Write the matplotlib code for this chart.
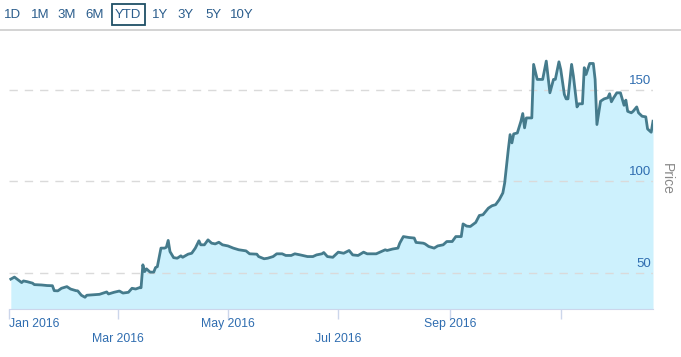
import numpy as np
import matplotlib
matplotlib.use("Agg")
import matplotlib.pyplot as plt
import matplotlib.dates as mdates
import matplotlib.transforms as mtransforms

plt.rcParams['font.family'] = ['Liberation Sans', 'DejaVu Sans']

# days after 2016-01-01 and closing price
days = [1, 3, 5, 7, 8, 10, 13, 14, 18, 21, 24, 25, 27, 29, 32, 34, 37, 38, 40, 42,
        43, 46, 50, 54, 55, 58, 61, 63, 66, 68, 70, 72, 73, 74, 75, 76, 78, 80, 81, 82,
        84, 86, 87, 88, 89, 91, 93, 95, 96, 99, 101, 103, 105, 106, 108, 110, 112, 114, 116, 118,
        121, 124, 127, 131, 133, 137, 138, 141, 143, 146, 148, 151, 153, 156, 158, 161, 165, 168, 170, 173,
        174, 176, 179, 182, 185, 188, 190, 193, 196, 198, 203, 205, 208, 209, 212, 215, 216, 218, 221, 224,
        225, 229, 230, 232, 235, 237, 240, 242, 245, 247, 250, 251, 253, 255, 258, 260, 262, 265, 267, 269,
        271, 273, 274, 275, 276, 277, 278, 279, 281, 283, 284, 285, 286, 289, 290, 292, 295, 297, 299, 301,
        302, 304, 305, 307, 308, 309, 311, 312, 314, 315, 317, 318, 319, 321, 323, 324, 325, 327, 329, 331,
        332, 333, 334, 336, 338, 340, 341, 342, 344, 345, 347, 348, 350, 352, 353, 355, 356]
price = [46.6, 47.7, 46.2, 44.7, 45.6, 45.2, 44.4, 43.6, 43.4, 43.1, 43.0, 40.3, 40.2, 41.6, 42.5, 41.2, 40.3, 40.2, 37.8, 36.7,
         37.8, 38.0, 38.3, 39.6, 38.5, 39.4, 40.1, 39.0, 39.4, 41.6, 41.2, 41.9, 41.9, 54.4, 50.7, 52.2, 50.4, 50.4, 52.9, 53.4,
         63.5, 63.5, 64.0, 67.7, 61.6, 58.3, 58.0, 59.3, 58.5, 60.2, 60.7, 63.5, 67.5, 65.3, 65.3, 68.0, 66.2, 65.8, 66.7, 65.3,
         64.7, 63.5, 62.6, 62.0, 60.4, 60.2, 58.9, 57.7, 58.0, 58.9, 60.4, 60.4, 59.5, 59.5, 60.4, 59.8, 58.9, 58.9, 59.8, 60.4,
         61.1, 58.9, 58.5, 61.3, 60.7, 62.2, 59.8, 59.5, 61.3, 60.4, 60.4, 61.3, 62.6, 62.2, 63.0, 63.5, 66.2, 69.8, 69.3, 69.0,
         66.6, 66.2, 65.8, 64.4, 63.5, 64.7, 65.3, 67.1, 67.1, 69.8, 69.8, 76.7, 75.5, 75.3, 77.5, 81.3, 81.7, 85.3, 86.6, 87.2,
         89.9, 93.6, 99.0, 108.1, 117.2, 125.4, 120.9, 125.8, 126.3, 132.7, 136.9, 129.1, 134.5, 134.5, 163.7, 155.5, 155.5, 165.5, 148.2, 155.5,
         155.5, 165.1, 160.9, 147.3, 144.9, 144.9, 163.7, 157.3, 140.5, 142.2, 142.2, 161.9, 158.2, 164.2, 164.2, 155.5, 130.9, 143.6, 144.9, 145.5,
         147.7, 143.3, 145.1, 148.2, 148.2, 141.4, 144.2, 138.1, 137.3, 138.1, 140.5, 137.3, 135.4, 135.1, 128.5, 126.7, 132.7]

y_ticks = [50, 100, 150]
x_labels = ['Jan 2016', 'Mar 2016', 'May 2016', 'Jul 2016', 'Sep 2016', '']
x_ticks = ['2016-01-01', '2016-03-01', '2016-05-01', '2016-07-01', '2016-09-01', '2016-11-01']
buttons = ['1D', '1M', '3M', '6M', 'YTD', '1Y', '3Y', '5Y', '10Y']

dates = np.datetime64('2016-01-01') + np.array(days).astype('timedelta64[D]')
tick_dates = np.array(x_ticks, dtype='datetime64[D]')

W, H = 681, 357
fig = plt.figure(figsize=(W / 100, H / 100), dpi=100)
ax = fig.add_axes([9 / W, (H - 309) / H, (653 - 9) / W, (309 - 40) / H])

line_col = '#457b8c'
fill_col = '#cdf1fd'
lab_col = '#2f6db0'

ax.fill_between(dates, price, 0, color=fill_col, lw=0, zorder=1)
ax.plot(dates, price, color=line_col, lw=2, zorder=3)

ax.set_xlim(np.datetime64('2016-01-01'), dates[-1])
ax.set_ylim(30.3, 177)

for v in y_ticks:
    ax.axhline(v, color='#dadada', lw=1, ls=(0, (6, 5)), zorder=2)
    ax.text(0.997, v + 1.5, str(v), transform=ax.get_yaxis_transform(),
            ha='right', va='bottom', fontsize=9.5, color=lab_col, zorder=4)

for s in ['top', 'right', 'left']:
    ax.spines[s].set_visible(False)
ax.spines['bottom'].set_color('#ccd6eb')
ax.set_yticks([])
ax.set_xticks(tick_dates)
ax.set_xticklabels([])
ax.tick_params(axis='x', length=7, color='#ccd6eb', width=1)

trans = mtransforms.blended_transform_factory(ax.transData, fig.transFigure)
for i, (d, lab) in enumerate(zip(tick_dates, x_labels)):
    yy = 1 - (324 if i % 2 == 0 else 339) / H
    ax.text(mdates.date2num(d), yy, lab, transform=trans, ha='left' if i == 0 else 'center',
            va='center', fontsize=8.8, color=lab_col, clip_on=False)

fig.text(667 / W, 1 - 179 / H, 'Price', rotation=-90, ha='center', va='center',
         fontsize=10, color='#888888')

# range selector
bx = [13, 40, 67, 95, 128, 160, 186, 213, 242]
for x, b in zip(bx, buttons):
    fig.text(x / W, 1 - 15 / H, b, ha='center', va='center', fontsize=9.5, color='#2b5d8c')
fig.patches.append(matplotlib.patches.Rectangle((111.5 / W, 1 - 24.5 / H), 33 / W, 20 / H,
                   transform=fig.transFigure, fill=False, ec='#1f4f66', lw=1.3))
fig.lines.append(matplotlib.lines.Line2D([0, 1], [1 - 29.5 / H, 1 - 29.5 / H],
                 transform=fig.transFigure, color='#cccccc', lw=1.2))

fig.savefig('out.png', dpi=100)
